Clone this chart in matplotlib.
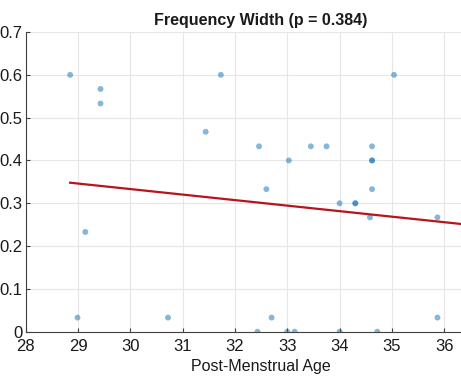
import matplotlib
matplotlib.use('Agg')
import matplotlib.pyplot as plt
import numpy as np

# post-menstrual age (weeks) and frequency width per subject
age = [28.85, 29.43, 29.43, 28.99, 29.14, 30.72, 31.44, 31.73,
       32.46, 32.6, 32.7, 32.43, 33.03, 33.0, 33.14, 33.45, 33.75,
       34.0, 34.0, 34.3, 34.3, 34.62, 34.62, 34.62, 34.62, 34.58,
       34.72, 35.04, 35.87, 35.87]
width = [0.6, 0.567, 0.533, 0.033, 0.233, 0.033, 0.467, 0.6,
         0.433, 0.333, 0.033, 0.0, 0.4, 0.0, 0.0, 0.433, 0.433,
         0.3, 0.0, 0.3, 0.3, 0.433, 0.4, 0.4, 0.333, 0.267,
         0.0, 0.6, 0.267, 0.033]
p_value = 0.384

# model fit (slope per week, intercept)
fit_slope = -0.0129
fit_icpt = 0.7202

plt.rcParams['font.family'] = ['Liberation Sans', 'DejaVu Sans']

fig = plt.figure(figsize=(4.61, 3.76), dpi=100)
ax = fig.add_axes([0.0557, 0.1178, 1.0215, 0.797])

ax.scatter(age, width, s=18, color=(0.05, 0.44, 0.72), alpha=0.5,
           edgecolors='none', zorder=3)

xs = np.array([min(age), 37])
ax.plot(xs, fit_slope * xs + fit_icpt, color='#b8141e', lw=1.6, zorder=4)

ax.set_xlim(28, 37)
ax.set_ylim(0, 0.7)
ax.set_xticks(np.arange(28, 37))
ax.set_yticks(np.arange(0, 0.71, 0.1))
ax.set_yticklabels(['0'] + [f'{v:.1f}' for v in np.arange(0.1, 0.71, 0.1)])
ax.grid(True, color='#e6e6e6', lw=0.8)
ax.set_axisbelow(True)
for s in ('top', 'right'):
    ax.spines[s].set_visible(False)
for s in ('left', 'bottom'):
    ax.spines[s].set_color('#404040')
    ax.spines[s].set_linewidth(0.8)
ax.tick_params(direction='in', length=3, width=0.8, color='#404040',
               labelsize=12, labelcolor='#1a1a1a')
ax.tick_params(axis='x', pad=5)
ax.tick_params(axis='y', pad=2.5)

ax.set_xlabel('Post-Menstrual Age', fontsize=11.5, color='#1a1a1a', labelpad=4)
ax.set_title(f'Frequency Width (p = {p_value})', fontsize=11.5,
             fontweight='bold', color='#1a1a1a', pad=5)

fig.savefig('out.png', dpi=100)
